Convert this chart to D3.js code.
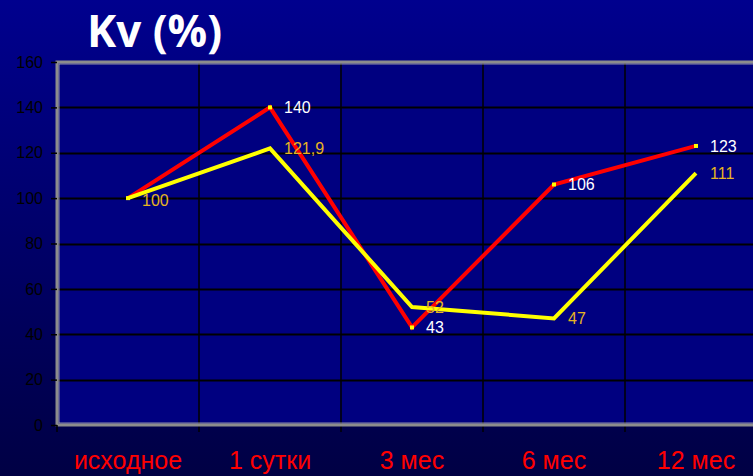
<!DOCTYPE html>
<html>
<head>
<meta charset="utf-8">
<script src="https://cdn.jsdelivr.net/npm/d3@7/dist/d3.min.js"></script>
<style>
  html, body { margin: 0; padding: 0; background: #000050; }
  svg { display: block; }
</style>
</head>
<body>
<svg id="chart" width="753" height="476"></svg>
<script>
// Kv (%) over follow-up time points
const categories = ["исходное", "1 сутки", "3 мес", "6 мес", "12 мес"];
const redValues = [100, 140, 43, 106, 123];
const yellowValues = [100, 121.9, 52, 47, 111];
const redLabels = ["", "140", "43", "106", "123"];
const yellowLabels = ["100", "121,9", "52", "47", "111"];
const yTicks = [0, 20, 40, 60, 80, 100, 120, 140, 160];

const W = 753, H = 476;
const plot = { left: 57, right: 767, top: 62, bottom: 425 };

const svg = d3.select("#chart");

// background gradient
const defs = svg.append("defs");
const grad = defs.append("linearGradient").attr("id", "bg")
  .attr("x1", 0).attr("y1", 0).attr("x2", 0).attr("y2", 1);
grad.append("stop").attr("offset", "0%").attr("stop-color", "#00008e");
grad.append("stop").attr("offset", "100%").attr("stop-color", "#000044");
svg.append("rect").attr("width", W).attr("height", H).attr("fill", "url(#bg)");

const x = d3.scaleBand().domain(categories).range([plot.left, plot.right]);
const y = d3.scaleLinear().domain([0, 160]).range([plot.bottom, plot.top]);
const cx = d => x(d) + x.bandwidth() / 2;

// plot area
svg.append("rect")
  .attr("x", plot.left).attr("y", plot.top)
  .attr("width", plot.right - plot.left).attr("height", plot.bottom - plot.top)
  .attr("fill", "#000080");

// horizontal gridlines
svg.append("g").selectAll("line")
  .data(yTicks.filter(t => t > 0 && t < 160))
  .join("line")
  .attr("x1", plot.left).attr("x2", plot.right)
  .attr("y1", d => Math.round(y(d)) + 0.5).attr("y2", d => Math.round(y(d)) + 0.5)
  .attr("stroke", "#000").attr("stroke-width", 2);

// vertical gridlines at category boundaries
svg.append("g").selectAll("line")
  .data(categories.slice(1))
  .join("line")
  .attr("x1", d => x(d)).attr("x2", d => x(d))
  .attr("y1", plot.top).attr("y2", plot.bottom + 7)
  .attr("stroke", "#000").attr("stroke-width", 1.5);

// plot border
svg.append("rect")
  .attr("x", plot.left).attr("y", plot.top)
  .attr("width", plot.right - plot.left).attr("height", plot.bottom - plot.top)
  .attr("fill", "none").attr("stroke", "#8c8c8c").attr("stroke-width", 3);
svg.append("rect")
  .attr("x", plot.left + 2).attr("y", plot.top + 2)
  .attr("width", plot.right - plot.left - 4).attr("height", plot.bottom - plot.top - 4)
  .attr("fill", "none").attr("stroke", "#b0b0b0").attr("stroke-width", 0.8);

// y axis
const yAxis = svg.append("g")
  .attr("transform", `translate(${plot.left},0)`)
  .call(d3.axisLeft(y).tickValues(yTicks).tickSize(6).tickPadding(8));
yAxis.select(".domain").remove();
yAxis.selectAll(".tick line").attr("stroke", "#000").attr("stroke-width", 1.5);
yAxis.selectAll(".tick text")
  .attr("fill", "#000")
  .attr("font-family", "Liberation Sans, Arial, sans-serif")
  .attr("font-size", 16);

// left x tick mark
svg.append("line")
  .attr("x1", plot.left).attr("x2", plot.left)
  .attr("y1", plot.bottom).attr("y2", plot.bottom + 7)
  .attr("stroke", "#000").attr("stroke-width", 1.5);

// x category labels
svg.append("g").selectAll("text")
  .data(categories)
  .join("text")
  .attr("x", d => cx(d)).attr("y", 469)
  .attr("text-anchor", "middle")
  .attr("fill", "#ff0000")
  .attr("font-family", "Liberation Sans, Arial, sans-serif")
  .attr("font-size", 25)
  .text(d => d);

const line = d3.line().x(d => cx(d.c)).y(d => y(d.v));
const redPts = categories.map((c, i) => ({ c, v: redValues[i], label: redLabels[i] }));
const yellowPts = categories.map((c, i) => ({ c, v: yellowValues[i], label: yellowLabels[i] }));

// red series with small yellow markers
svg.append("path").datum(redPts)
  .attr("d", line).attr("fill", "none")
  .attr("stroke", "#ff0000").attr("stroke-width", 4).attr("stroke-linejoin", "miter");
svg.append("g").selectAll("rect")
  .data(redPts).join("rect")
  .attr("x", d => cx(d.c) - 2).attr("y", d => y(d.v) - 2)
  .attr("width", 4).attr("height", 4)
  .attr("fill", "#ffff00");

// yellow series
svg.append("path").datum(yellowPts)
  .attr("d", line).attr("fill", "none")
  .attr("stroke", "#ffff00").attr("stroke-width", 4).attr("stroke-linejoin", "miter");

// value labels
svg.append("g").selectAll("text")
  .data(redPts.filter(d => d.label))
  .join("text")
  .attr("x", d => cx(d.c) + 14).attr("y", d => y(d.v))
  .attr("dy", "0.35em")
  .attr("fill", "#ffffff")
  .attr("font-family", "Liberation Sans, Arial, sans-serif")
  .attr("font-size", 16)
  .text(d => d.label);
svg.append("g").selectAll("text")
  .data(yellowPts)
  .join("text")
  .attr("x", d => cx(d.c) + 14).attr("y", d => y(d.v) + (d.label === "100" ? 2 : 0))
  .attr("dy", "0.35em")
  .attr("fill", "#e6b422")
  .attr("font-family", "Liberation Sans, Arial, sans-serif")
  .attr("font-size", 16)
  .text(d => d.label);

// title
svg.append("text")
  .attr("x", 87).attr("y", 47)
  .attr("fill", "#ffffff")
  .attr("font-family", "Open Sans, sans-serif")
  .attr("font-weight", "bold")
  .attr("font-size", 44)
  .text("Kv (%)");
</script>
</body>
</html>
